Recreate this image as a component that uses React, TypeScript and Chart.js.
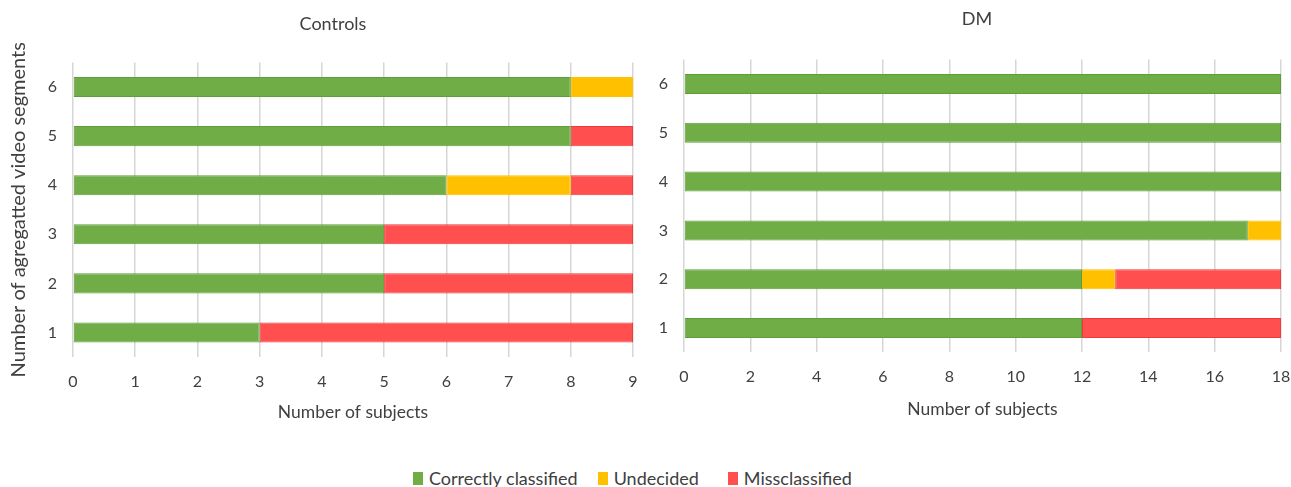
import { useEffect, useRef } from 'react';
import { Chart, registerables } from 'chart.js';

Chart.register(...registerables);

// Number of aggregated video segments (top to bottom)
const segmentLabels = ['6', '5', '4', '3', '2', '1'];

// Controls group: subjects per outcome
const controlsCorrect = [8, 8, 6, 5, 5, 3];
const controlsUndecided = [1, 0, 2, 0, 0, 0];
const controlsMissclassified = [0, 1, 1, 4, 4, 6];

// DM group: subjects per outcome
const dmCorrect = [18, 18, 18, 17, 12, 12];
const dmUndecided = [0, 0, 0, 1, 1, 0];
const dmMissclassified = [0, 0, 0, 0, 5, 6];

const seriesNames = ['Correctly classified', 'Undecided', 'Missclassified'];
const seriesFill = ['#70AD47', '#FFC000', '#FF4F4F'];
const seriesBorder = ['#5E9E38', '#FFC000', '#EE3C3C'];

const FONT = 'Lato, "Open Sans", "DejaVu Sans", sans-serif';
const TEXT = '#404040';

type PanelProps = {
  left: number;
  width: number;
  height: number;
  values: number[][];
  max: number;
  step: number;
  yWidth: number;
  areaTop: number;
  areaBottom: number;
  padRight: number;
  yTitle?: string;
  xTitlePad: number;
};

function BarPanel(p: PanelProps) {
  const ref = useRef<HTMLCanvasElement | null>(null);

  useEffect(() => {
    if (!ref.current) return;
    const chart = new Chart(ref.current, {
      type: 'bar',
      data: {
        labels: segmentLabels,
        datasets: p.values.map((v, i) => ({
          label: seriesNames[i],
          data: v,
          backgroundColor: seriesFill[i],
          borderColor: seriesBorder[i],
          borderWidth: 1,
          borderSkipped: false,
          categoryPercentage: 0.5,
          barPercentage: 0.82,
        })),
      },
      options: {
        indexAxis: 'y',
        responsive: false,
        maintainAspectRatio: false,
        animation: false,
        layout: { padding: { left: 0, right: p.padRight, top: p.areaTop, bottom: 0 } },
        plugins: {
          legend: { display: false },
          title: { display: false },
          tooltip: { enabled: false },
        },
        scales: {
          x: {
            stacked: true,
            min: 0,
            max: p.max,
            ticks: {
              stepSize: p.step,
              padding: 15,
              color: TEXT,
              font: { family: FONT, size: 16 },
            },
            grid: { color: '#D6D6D6', lineWidth: 1.5, drawTicks: false },
            border: { display: false },
            title: {
              display: true,
              text: 'Number of subjects',
              color: TEXT,
              font: { family: FONT, size: 17.5 },
              padding: { top: 0, bottom: p.xTitlePad },
            },
            afterFit: (s: any) => {
              s.height = p.height - p.areaBottom;
              s.paddingLeft = 0;
              s.paddingRight = 0;
            },
          },
          y: {
            stacked: true,
            ticks: {
              padding: 16,
              color: TEXT,
              font: { family: FONT, size: 16 },
            },
            grid: { display: false, drawTicks: false },
            border: { display: false },
            title: {
              display: !!p.yTitle,
              text: p.yTitle || '',
              color: TEXT,
              font: { family: FONT, size: 20 },
              padding: { top: 7, bottom: 0 },
            },
            afterFit: (s: any) => {
              s.width = p.yWidth;
              s.paddingTop = 0;
              s.paddingBottom = 0;
            },
          },
        },
      },
    });
    return () => chart.destroy();
  }, []);

  return (
    <div style={{ position: 'absolute', left: p.left, top: 0, width: p.width, height: p.height }}>
      <canvas ref={ref} width={p.width} height={p.height} />
    </div>
  );
}

function LegendItem({ color, label, gap }: { color: string; label: string; gap: number }) {
  return (
    <div style={{ display: 'flex', alignItems: 'center', marginRight: gap }}>
      <span style={{ display: 'inline-block', width: 10, height: 13, background: color, marginRight: 6 }} />
      <span>{label}</span>
    </div>
  );
}

export default function App() {
  return (
    <div
      style={{
        position: 'fixed',
        left: 0,
        top: 0,
        width: 1291,
        height: 487,
        background: '#fff',
        overflow: 'hidden',
        fontFamily: FONT,
        color: TEXT,
      }}
    >
      <BarPanel
        left={0}
        width={650}
        height={440}
        values={[controlsCorrect, controlsUndecided, controlsMissclassified]}
        max={9}
        step={1}
        yWidth={73}
        areaTop={62.5}
        areaBottom={357}
        padRight={17}
        yTitle="Number of agregatted video segments"
        xTitlePad={17}
      />
      <BarPanel
        left={640}
        width={651}
        height={440}
        values={[dmCorrect, dmUndecided, dmMissclassified]}
        max={18}
        step={2}
        yWidth={44}
        areaTop={59.6}
        areaBottom={352.4}
        padRight={10}
        xTitlePad={20}
      />
      <div style={{ position: 'absolute', left: 283, top: 12, width: 100, textAlign: 'center', fontSize: 18, lineHeight: '22px' }}>
        Controls
      </div>
      <div style={{ position: 'absolute', left: 927, top: 7, width: 100, textAlign: 'center', fontSize: 18, lineHeight: '22px' }}>
        DM
      </div>
      <div
        style={{
          position: 'absolute',
          left: 413,
          top: 467,
          display: 'flex',
          alignItems: 'center',
          fontSize: 18,
          lineHeight: '22px',
          whiteSpace: 'nowrap',
        }}
      >
        {seriesNames.map((n, i) => (
          <LegendItem key={n} color={seriesFill[i]} label={n} gap={i === 0 ? 20 : 29} />
        ))}
      </div>
    </div>
  );
}
